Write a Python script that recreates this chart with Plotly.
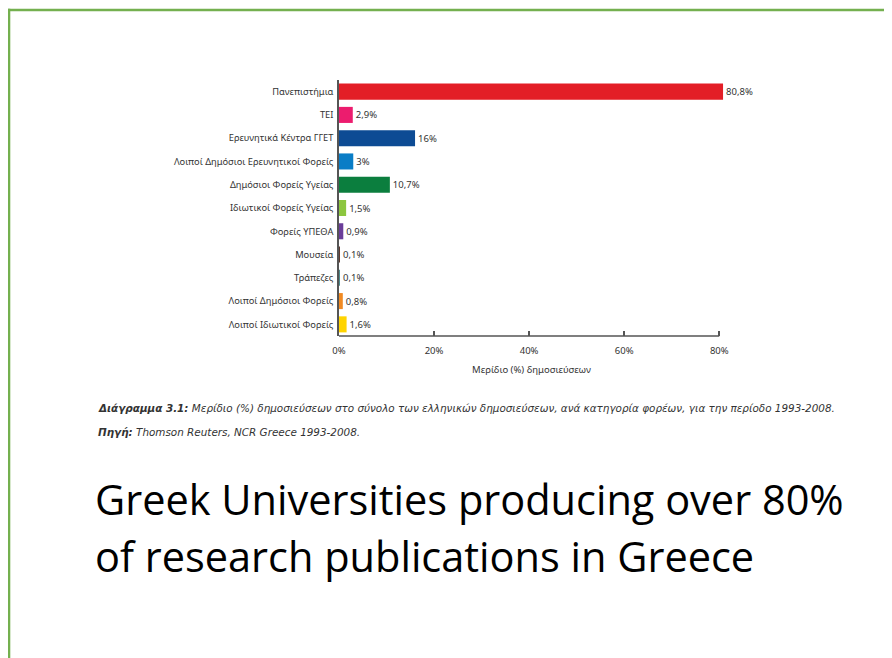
import plotly.graph_objects as go

# data
categories = [
    "Πανεπιστήμια",
    "ΤΕΙ",
    "Ερευνητικά Κέντρα ΓΓΕΤ",
    "Λοιποί Δημόσιοι Ερευνητικοί Φορείς",
    "Δημόσιοι Φορείς Υγείας",
    "Ιδιωτικοί Φορείς Υγείας",
    "Φορείς ΥΠΕΘΑ",
    "Μουσεία",
    "Τράπεζες",
    "Λοιποί Δημόσιοι Φορείς",
    "Λοιποί Ιδιωτικοί Φορείς",
]
shares = [80.8, 2.9, 16, 3, 10.7, 1.5, 0.9, 0.1, 0.1, 0.8, 1.6]
bar_colors = [
    "#E31E26", "#EC1C6E", "#0D4B94", "#0A7DC6", "#0B7E3E", "#8CC63F",
    "#6A3D99", "#5C3A30", "#4F8C8E", "#F18A22", "#FFD400",
]
tick_values = [0, 20, 40, 60, 80]
tick_labels = ["0%", "20%", "40%", "60%", "80%"]

# the page puts the figure 8px in from the window corner
OFF = 8
W, H = 892 - OFF, 658 - OFF
X0, X80 = 339 - OFF, 719 - OFF          # 0% and 80% in figure pixels
TOP, BOTTOM = 79.5 - OFF, 336 - OFF     # plot area top / bottom
XMAX = 81
right_px = X0 + XMAX * (X80 - X0) / 80


def px(x):
    # window pixel -> paper x
    return (x - OFF - X0) / (right_px - X0)


def py(y):
    # window pixel -> paper y
    return (BOTTOM - (y - OFF)) / (BOTTOM - TOP)


value_text = [f"{v:g}".replace(".", ",") + "%" for v in shares]

fig = go.Figure(
    go.Bar(
        x=shares,
        y=categories,
        orientation="h",
        marker=dict(color=bar_colors, line_width=0),
        text=value_text,
        textposition="outside",
        textfont=dict(size=9.5, color="#333333"),
        cliponaxis=False,
        hoverinfo="skip",
    )
)

small = "Noto Sans"
fig.update_layout(
    width=W,
    height=H,
    margin=dict(l=X0, r=W - right_px, t=TOP, b=H - BOTTOM),
    plot_bgcolor="white",
    paper_bgcolor="white",
    bargap=0.31,
    showlegend=False,
    font=dict(family=small, size=9, color="#333333"),
    uniformtext=dict(minsize=9, mode="show"),
)
fig.update_yaxes(
    autorange="reversed",
    showline=True,
    linecolor="#555555",
    linewidth=1.5,
    ticks="",
    ticklabelstandoff=2,
    tickfont=dict(size=9.3, color="#333333"),
    showgrid=False,
    zeroline=False,
)
fig.update_xaxes(
    range=[0, XMAX],
    tickvals=tick_values,
    ticktext=tick_labels,
    ticks="inside",
    ticklen=5,
    tickcolor="#555555",
    tickwidth=1.5,
    ticklabelstandoff=7,
    showline=False,
    showgrid=False,
    zeroline=False,
    tickfont=dict(size=9.5, color="#333333"),
    title=dict(text="Μερίδιο (%) δημοσιεύσεων", font=dict(size=9.5, color="#333333"), standoff=10),
)

# x axis line only up to the 80% tick
fig.add_shape(type="line", xref="x", yref="paper", x0=0, x1=80, y0=0, y1=0,
              line=dict(color="#555555", width=1.5))

# slide border (green, top and left)
green = "#74B04F"
fig.add_shape(type="rect", xref="paper", yref="paper", x0=px(OFF), x1=px(OFF + W + 2),
              y0=py(OFF), y1=py(OFF + 2.5), line_width=0, fillcolor=green)
fig.add_shape(type="rect", xref="paper", yref="paper", x0=px(OFF), x1=px(OFF + 2.5),
              y0=py(OFF), y1=py(OFF + H + 2), line_width=0, fillcolor=green)

# caption
cap = "DejaVu Sans"
fig.add_annotation(
    xref="paper", yref="paper", x=px(96), y=py(408), xanchor="left", yanchor="middle",
    showarrow=False, font=dict(family=cap, size=10.4, color="#333333"),
    text="<b><i>Διάγραμμα 3.1:</i></b><i> Μερίδιο (%) δημοσιεύσεων στο σύνολο των ελληνικών "
         "δημοσιεύσεων, ανά κατηγορία φορέων, για την περίοδο 1993-2008.</i>",
)
fig.add_annotation(
    xref="paper", yref="paper", x=px(96), y=py(432), xanchor="left", yanchor="middle",
    showarrow=False, font=dict(family=cap, size=10.4, color="#333333"),
    text="<b><i>Πηγή:</i></b><i> Thomson Reuters, NCR Greece 1993-2008.</i>",
)

# slide headline
big = dict(family="Open Sans", size=41.5, color="#000000")
fig.add_annotation(
    xref="paper", yref="paper", x=px(93), y=py(499), xanchor="left", yanchor="middle",
    showarrow=False, font=big, text="Greek Universities producing over 80%",
)
fig.add_annotation(
    xref="paper", yref="paper", x=px(93), y=py(556), xanchor="left", yanchor="middle",
    showarrow=False, font=big, text="of research publications in Greece",
)

fig.write_html("out.html")
